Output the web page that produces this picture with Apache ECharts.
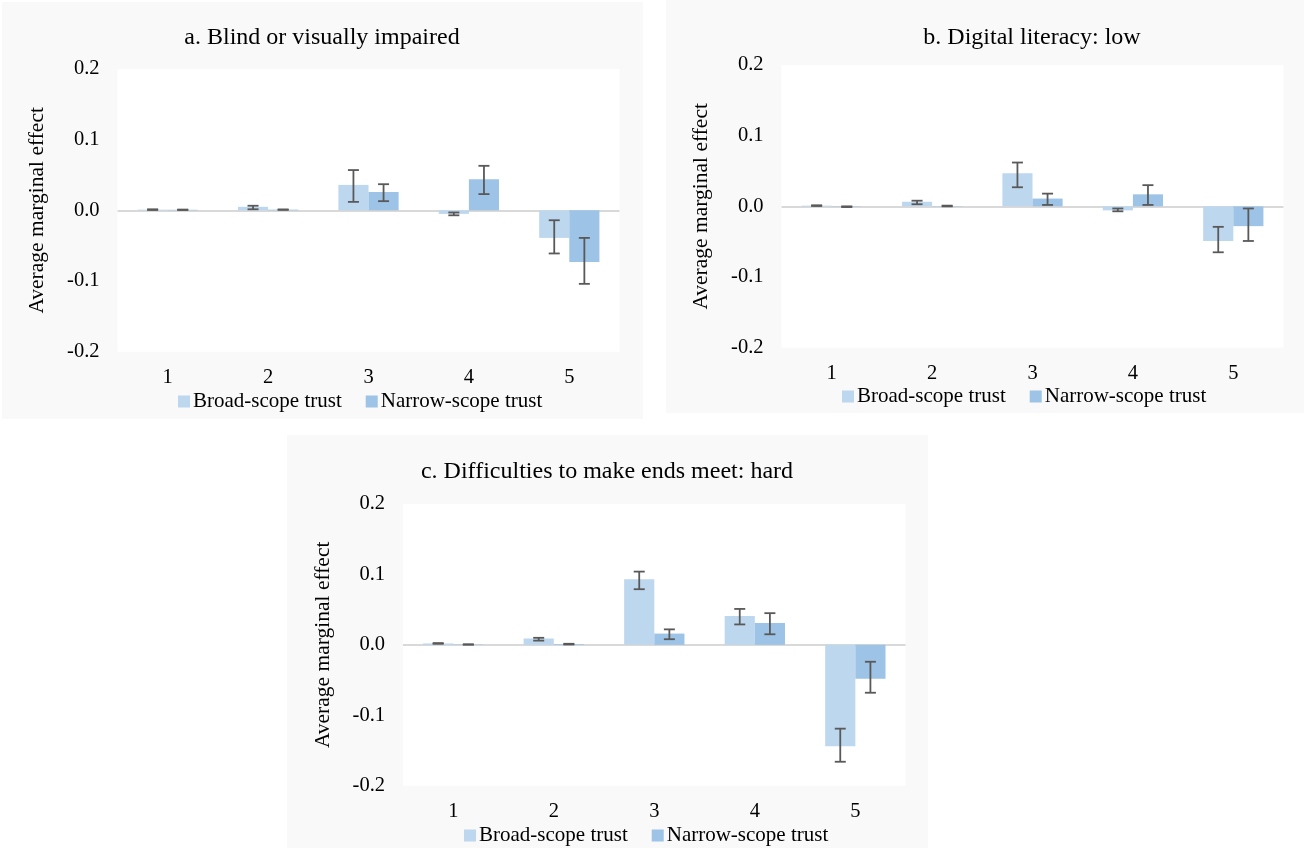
<!DOCTYPE html>
<html>
<head>
<meta charset="utf-8">
<script src="https://cdn.jsdelivr.net/npm/echarts@6/dist/echarts.min.js"></script>
<style>
html,body{margin:0;padding:0;background:#ffffff;}
#chart{width:1304px;height:848px;}
</style>
</head>
<body>
<div id="chart"></div>
<script>
// ---- data ----
var categories = ['1', '2', '3', '4', '5'];
var yTicks = [-0.2, -0.1, 0.0, 0.1, 0.2];
var seriesNames = ['Broad-scope trust', 'Narrow-scope trust'];
var panelTitles = ['a. Blind or visually impaired', 'b. Digital literacy: low', 'c. Difficulties to make ends meet: hard'];

var aBroad      = [0.001, 0.005, 0.036, -0.005, -0.039];
var aBroadLow   = [0.0005, 0.0015, 0.012, -0.007, -0.061];
var aBroadHigh  = [0.0015, 0.0065, 0.057, -0.003, -0.014];
var aNarrow     = [0.0008, 0.001, 0.026, 0.044, -0.073];
var aNarrowLow  = [0.0005, 0.0007, 0.013, 0.023, -0.104];
var aNarrowHigh = [0.0011, 0.0013, 0.037, 0.063, -0.039];

var bBroad      = [0.001, 0.0065, 0.047, -0.0057, -0.049];
var bBroadLow   = [0.0005, 0.003, 0.027, -0.007, -0.065];
var bBroadHigh  = [0.0015, 0.008, 0.062, -0.003, -0.029];
var bNarrow     = [-0.0005, 0.0005, 0.011, 0.017, -0.028];
var bNarrowLow  = [-0.001, 0.0, 0.002, 0.002, -0.049];
var bNarrowHigh = [0.0, 0.001, 0.018, 0.030, -0.003];

var cBroad      = [0.002, 0.009, 0.093, 0.041, -0.144];
var cBroadLow   = [0.0015, 0.006, 0.079, 0.029, -0.166];
var cBroadHigh  = [0.0025, 0.010, 0.104, 0.051, -0.119];
var cNarrow     = [0.0005, 0.001, 0.016, 0.031, -0.048];
var cNarrowLow  = [0.0002, 0.0005, 0.008, 0.015, -0.068];
var cNarrowHigh = [0.0008, 0.0015, 0.022, 0.045, -0.024];

// ---- layout / style ----
var FONT = '"Liberation Serif", "Times New Roman", serif';
var BROAD_COLOR = '#bdd7ee';
var NARROW_COLOR = '#9dc3e6';
var ERR_COLOR = '#595959';

var panels = [
  {box: [2, 2, 641, 417], grid: [117.5, 69, 502, 282.7], title: [322, 26], legend: [178, 391],
   broad: aBroad, broadLow: aBroadLow, broadHigh: aBroadHigh, narrow: aNarrow, narrowLow: aNarrowLow, narrowHigh: aNarrowHigh},
  {box: [666, 0, 640, 413], grid: [781.5, 65, 502, 282.7], title: [1032, 26], legend: [842, 386],
   broad: bBroad, broadLow: bBroadLow, broadHigh: bBroadHigh, narrow: bNarrow, narrowLow: bNarrowLow, narrowHigh: bNarrowHigh},
  {box: [287, 435, 641, 413], grid: [403, 504, 502.6, 281.7], title: [607, 460], legend: [464, 825],
   broad: cBroad, broadLow: cBroadLow, broadHigh: cBroadHigh, narrow: cNarrow, narrowLow: cNarrowLow, narrowHigh: cNarrowHigh}
];

function errRender(offsetFrac) {
  return function (params, api) {
    var x = api.value(0), lo = api.value(1), hi = api.value(2);
    var pHi = api.coord([x, hi]);
    var pLo = api.coord([x, lo]);
    var bw = api.size([1, 0])[0];
    var cx = pHi[0] + offsetFrac * bw;
    var cap = 5.5;
    var style = {stroke: ERR_COLOR, lineWidth: 1.8};
    return {
      type: 'group',
      children: [
        {type: 'line', shape: {x1: cx, y1: pHi[1], x2: cx, y2: pLo[1]}, style: style},
        {type: 'line', shape: {x1: cx - cap, y1: pHi[1], x2: cx + cap, y2: pHi[1]}, style: style},
        {type: 'line', shape: {x1: cx - cap, y1: pLo[1], x2: cx + cap, y2: pLo[1]}, style: style}
      ]
    };
  };
}

var grids = [], xAxes = [], yAxes = [], series = [], titles = [], legends = [], graphics = [];

panels.forEach(function (p, i) {
  graphics.push({type: 'rect', z: -20, shape: {x: p.box[0], y: p.box[1], width: p.box[2], height: p.box[3]}, style: {fill: '#f9f9f9'}});
  graphics.push({type: 'rect', z: -19, shape: {x: p.grid[0], y: p.grid[1], width: p.grid[2], height: p.grid[3]}, style: {fill: '#ffffff'}});

  grids.push({left: p.grid[0], top: p.grid[1], width: p.grid[2], height: p.grid[3], containLabel: false});
  xAxes.push({
    type: 'category', gridIndex: i, data: categories, position: 'bottom',
    axisLine: {show: false}, axisTick: {show: false},
    axisLabel: {fontFamily: FONT, fontSize: 20.5, color: '#000', margin: 15}
  });
  yAxes.push({
    type: 'value', gridIndex: i, min: yTicks[0], max: yTicks[yTicks.length - 1], interval: 0.1,
    axisLine: {show: false}, axisTick: {show: false}, splitLine: {show: false},
    axisLabel: {fontFamily: FONT, fontSize: 20.5, color: '#000', margin: 18,
      formatter: function (v) { return v.toFixed(1); }},
    name: 'Average marginal effect', nameLocation: 'middle', nameRotate: 90, nameGap: 69,
    nameTextStyle: {fontFamily: FONT, fontSize: 21.5, color: '#000'}
  });
  series.push({
    name: seriesNames[0], type: 'bar', xAxisIndex: i, yAxisIndex: i, data: p.broad,
    itemStyle: {color: BROAD_COLOR}, barGap: '0%', barCategoryGap: '40%',
    markLine: {silent: true, symbol: 'none', label: {show: false},
      lineStyle: {color: '#d9d9d9', width: 2, type: 'solid'}, data: [{yAxis: 0}], z: 1}
  });
  series.push({
    name: seriesNames[1], type: 'bar', xAxisIndex: i, yAxisIndex: i, data: p.narrow,
    itemStyle: {color: NARROW_COLOR}, barGap: '0%', barCategoryGap: '40%'
  });
  series.push({
    type: 'custom', xAxisIndex: i, yAxisIndex: i, silent: true, z: 5,
    data: categories.map(function (c, k) { return [k, p.broadLow[k], p.broadHigh[k]]; }),
    encode: {x: 0, y: [1, 2]}, renderItem: errRender(-0.15)
  });
  series.push({
    type: 'custom', xAxisIndex: i, yAxisIndex: i, silent: true, z: 5,
    data: categories.map(function (c, k) { return [k, p.narrowLow[k], p.narrowHigh[k]]; }),
    encode: {x: 0, y: [1, 2]}, renderItem: errRender(0.15)
  });
  titles.push({
    text: panelTitles[i], left: p.title[0], top: p.title[1], textAlign: 'center', padding: 0,
    textStyle: {fontFamily: FONT, fontSize: 24, fontWeight: 'normal', color: '#000'}
  });
  legends.push({
    data: seriesNames, left: p.legend[0], top: p.legend[1], orient: 'horizontal', padding: 0,
    icon: 'rect', itemWidth: 12, itemHeight: 12, itemGap: 24, selectedMode: false,
    textStyle: {fontFamily: FONT, fontSize: 21, color: '#000', padding: [0, 0, 0, -2]}
  });
});

var chart = echarts.init(document.getElementById('chart'), null, {renderer: 'canvas'});
chart.setOption({
  backgroundColor: '#ffffff',
  animation: false,
  title: titles,
  legend: legends,
  grid: grids,
  xAxis: xAxes,
  yAxis: yAxes,
  series: series,
  graphic: {elements: graphics}
});
</script>
</body>
</html>
